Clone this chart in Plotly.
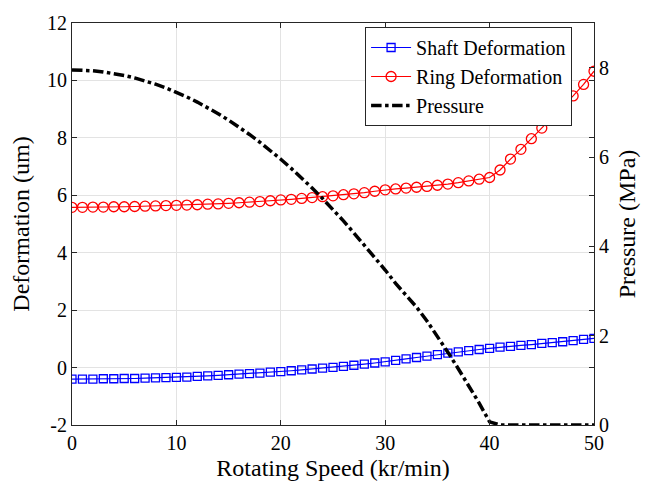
import plotly.graph_objects as go

speed = list(range(0, 51))

shaft_deformation = [
    -0.40, -0.40, -0.40, -0.39, -0.39, -0.38, -0.38, -0.37, -0.36, -0.35,
    -0.34, -0.33, -0.31, -0.29, -0.27, -0.25, -0.23, -0.21, -0.19, -0.16,
    -0.14, -0.11, -0.08, -0.05, -0.02, 0.01, 0.04, 0.08, 0.12, 0.16,
    0.20, 0.25, 0.30, 0.35, 0.40, 0.45, 0.50, 0.55, 0.59, 0.63,
    0.67, 0.71, 0.74, 0.77, 0.80, 0.84, 0.87, 0.90, 0.94, 0.98, 1.02,
]

ring_deformation = [
    5.58, 5.58, 5.59, 5.59, 5.60, 5.60, 5.61, 5.62, 5.63, 5.64,
    5.65, 5.66, 5.67, 5.69, 5.70, 5.72, 5.74, 5.76, 5.78, 5.81,
    5.84, 5.86, 5.89, 5.92, 5.95, 5.98, 6.02, 6.05, 6.09, 6.14,
    6.19, 6.22, 6.25, 6.28, 6.31, 6.35, 6.39, 6.44, 6.50, 6.56,
    6.62, 6.88, 7.26, 7.60, 7.97, 8.34, 8.71, 9.08, 9.46, 9.86, 10.32,
]

pressure = [
    7.95, 7.945, 7.93, 7.905, 7.87, 7.825, 7.77, 7.705, 7.63, 7.545,
    7.45, 7.345, 7.23, 7.105, 6.97, 6.825, 6.67, 6.505, 6.33, 6.145,
    5.95, 5.745, 5.53, 5.305, 5.07, 4.825, 4.57, 4.30, 4.03, 3.75,
    3.47, 3.17, 2.91, 2.64, 2.33, 1.99, 1.63, 1.26, 0.88, 0.49,
    0.07, 0.0, 0.0, 0.0, 0.0, 0.0, 0.0, 0.0, 0.0, 0.0, 0.0,
]

x_ticks = [0, 10, 20, 30, 40, 50]
left_ticks = [-2, 0, 2, 4, 6, 8, 10, 12]
left_labels = ["-2", "0", "2", "4", "6", "8", "10", "12"]
right_ticks = [0, 2, 4, 6, 8]

FONT = "Liberation Serif, Times New Roman, serif"
AXIS_COLOR = "#262626"
GRID_COLOR = "#e3e3e3"

fig = go.Figure()

fig.add_trace(go.Scatter(
    x=speed, y=shaft_deformation, name="Shaft Deformation",
    mode="lines+markers",
    line=dict(color="#0000ff", width=1.2),
    marker=dict(symbol="square-open", size=8, color="#0000ff", line=dict(width=1.3, color="#0000ff")),
    yaxis="y",
))
fig.add_trace(go.Scatter(
    x=speed, y=ring_deformation, name="Ring Deformation",
    mode="lines+markers",
    line=dict(color="#ff0000", width=1.2),
    marker=dict(symbol="circle-open", size=10, color="#ff0000", line=dict(width=1.3, color="#ff0000")),
    yaxis="y",
))
fig.add_trace(go.Scatter(
    x=speed, y=pressure, name="Pressure",
    mode="lines",
    line=dict(color="#000000", width=3.5, dash="dashdot"),
    yaxis="y2",
))

fig.update_layout(
    width=656, height=492,
    margin=dict(l=72, r=62, t=16, b=67),
    paper_bgcolor="white", plot_bgcolor="white",
    font=dict(family=FONT, size=17, color="#000000"),
    showlegend=True,
    legend=dict(
        x=0.958, y=0.99, xanchor="right", yanchor="top",
        bgcolor="white", bordercolor=AXIS_COLOR, borderwidth=1,
        font=dict(family=FONT, size=20, color="#000000"),
        tracegroupgap=0, itemwidth=40,
    ),
    xaxis=dict(
        range=[0, 50], tickvals=x_ticks,
        showgrid=True, gridcolor=GRID_COLOR, gridwidth=1,
        zeroline=False,
        showline=True, linecolor=AXIS_COLOR, linewidth=1, mirror="ticks",
        ticks="inside", ticklen=5, tickcolor=AXIS_COLOR,
        tickfont=dict(family=FONT, size=20),
        title=dict(text="Rotating Speed (kr/min)", font=dict(family=FONT, size=24), standoff=6),
    ),
    yaxis=dict(
        range=[-2, 12], tickvals=left_ticks, ticktext=left_labels,
        showgrid=True, gridcolor=GRID_COLOR, gridwidth=1,
        zeroline=False,
        showline=True, linecolor=AXIS_COLOR, linewidth=1, mirror="ticks",
        ticks="inside", ticklen=5, tickcolor=AXIS_COLOR,
        tickfont=dict(family=FONT, size=20),
        title=dict(text="Deformation (um)", font=dict(family=FONT, size=24), standoff=10),
    ),
    yaxis2=dict(
        range=[0, 9], tickvals=right_ticks,
        overlaying="y", side="right", anchor="x",
        showgrid=False, zeroline=False,
        showline=True, linecolor=AXIS_COLOR, linewidth=1,
        ticks="inside", ticklen=5, tickcolor=AXIS_COLOR,
        tickfont=dict(family=FONT, size=20),
        title=dict(text="Pressure (MPa)", font=dict(family=FONT, size=24), standoff=10),
    ),
)

fig.write_html("out.html")
